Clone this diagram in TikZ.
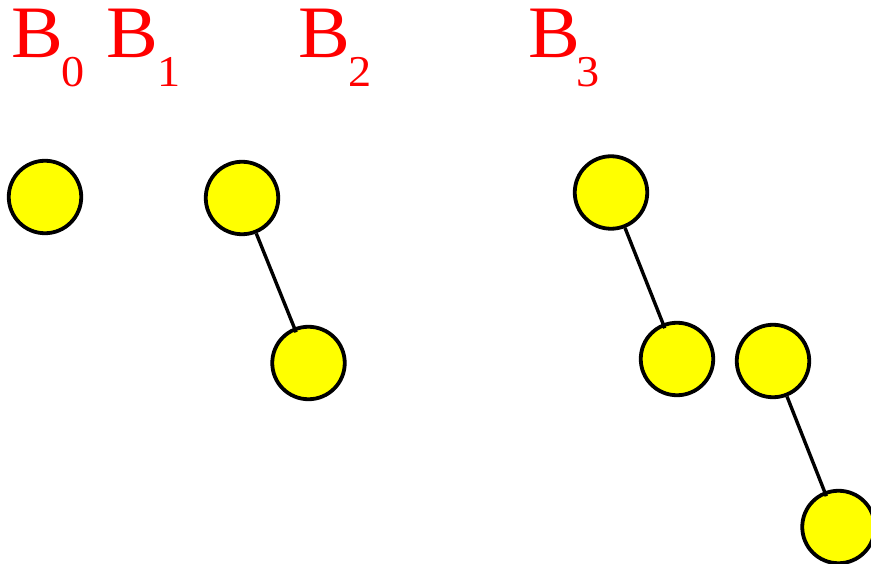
\documentclass[tikz,border=0pt]{standalone}
\usepackage{fontspec}
\setmainfont{Liberation Serif}
\newfontfamily\lblfont[FakeStretch=1.05]{Liberation Serif}
\definecolor{ballyellow}{RGB}{255,255,0}
\definecolor{lblred}{RGB}{255,0,0}
\begin{document}
\begin{tikzpicture}[x=1pt,y=-1pt,
  ball/.style={circle,draw=black,fill=ballyellow,line width=3.8pt,minimum size=72.5pt,inner sep=0pt},
  lbl/.style={anchor=base west,inner sep=0pt,text=lblred,font=\lblfont\fontsize{74}{74}\selectfont},
  link/.style={draw=black,line width=3.4pt,shorten >=-5pt}]
\useasboundingbox (0,0) rectangle (871,564);
\newcommand{\subdig}[2]{\kern#1pt\raisebox{-29pt}{\fontsize{44}{44}\selectfont #2}}
\node[lbl] (b0) at (10.8,58) {B\subdig{-1.7}{0}};
\node[lbl] (b1) at (105.8,58) {B\subdig{-0.7}{1}};
\node[lbl] (b2) at (298.1,58) {B\subdig{-2}{2}};
\node[lbl] (b3) at (528.1,58) {B\subdig{-3.9}{3}};
\node[ball] (c1) at (45,197) {};
\node[ball] (c2) at (242,198) {};
\node[ball] (c3) at (308.5,363) {};
\node[ball] (c4) at (611,192.5) {};
\node[ball] (c5) at (677,359) {};
\node[ball] (c6) at (773,361) {};
\node[ball] (c7) at (838.5,527) {};
\draw[link] (c2) -- (c3);
\draw[link] (c4) -- (c5);
\draw[link] (c6) -- (c7);
\end{tikzpicture}
\end{document}
